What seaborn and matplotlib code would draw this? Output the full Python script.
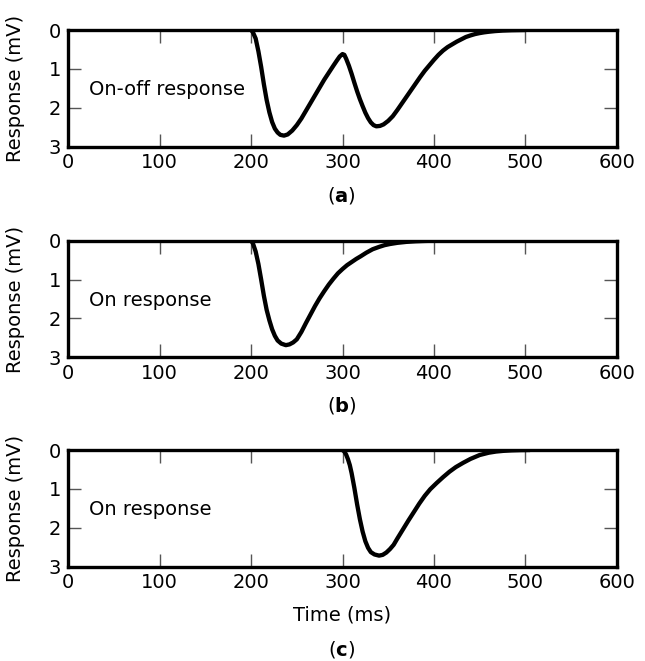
import numpy as np
import pandas as pd
import matplotlib
matplotlib.use('Agg')
import matplotlib.pyplot as plt
import seaborn as sns

# values (time in ms, response in mV, drawn downward)
t_onoff = [200, 202, 205, 208, 211, 214, 217, 220, 223, 226, 229, 232, 236, 240, 245,
           250, 255, 260, 265, 270, 275, 280, 285, 290, 294, 297, 300, 302, 304, 307,
           310, 313, 316, 319, 322, 325, 328, 331, 334, 337, 341, 345, 350, 355, 360,
           365, 370, 375, 380, 385, 390, 395, 400, 405, 410, 415, 420, 425, 430, 435,
           440, 445, 450, 455, 460, 467, 475, 485, 500]
v_onoff = [0.0, 0.06, 0.22, 0.55, 0.95, 1.40, 1.80, 2.12, 2.37, 2.54, 2.64, 2.70, 2.72, 2.69, 2.59,
           2.45, 2.28, 2.08, 1.88, 1.68, 1.48, 1.28, 1.10, 0.92, 0.78, 0.68, 0.62, 0.64, 0.74, 0.92,
           1.13, 1.36, 1.58, 1.78, 1.96, 2.13, 2.27, 2.38, 2.45, 2.48, 2.47, 2.43, 2.34, 2.22, 2.06,
           1.89, 1.72, 1.55, 1.38, 1.21, 1.05, 0.91, 0.77, 0.64, 0.53, 0.44, 0.37, 0.30, 0.24, 0.18,
           0.14, 0.105, 0.08, 0.06, 0.045, 0.028, 0.015, 0.006, 0.0]

t_on_b = [200, 202, 205, 208, 211, 214, 217, 220, 223, 226, 229, 233, 238, 242, 246,
          250, 255, 260, 265, 270, 275, 280, 285, 290, 295, 300, 305, 310, 315, 320,
          326, 333, 340, 346, 352, 360, 370, 380, 390, 400]
v_on_b = [0.0, 0.07, 0.28, 0.60, 1.00, 1.42, 1.78, 2.05, 2.28, 2.45, 2.57, 2.65, 2.69, 2.67, 2.62,
          2.54, 2.35, 2.12, 1.90, 1.68, 1.48, 1.30, 1.13, 0.98, 0.84, 0.73, 0.63, 0.55, 0.47, 0.40,
          0.31, 0.22, 0.16, 0.115, 0.085, 0.055, 0.03, 0.015, 0.006, 0.0]

t_on_c = [300, 302, 304, 306, 308, 310, 313, 316, 319, 322, 325, 328, 331, 335, 340,
          344, 348, 352, 356, 360, 366, 372, 378, 384, 390, 396, 403, 410, 417, 424,
          432, 440, 445, 450, 455, 460, 468, 476, 485, 495, 505]
v_on_c = [0.0, 0.04, 0.12, 0.24, 0.39, 0.60, 0.98, 1.40, 1.78, 2.10, 2.35, 2.52, 2.63, 2.69, 2.72,
          2.70, 2.64, 2.55, 2.44, 2.28, 2.05, 1.82, 1.60, 1.38, 1.18, 1.01, 0.85, 0.70, 0.56, 0.44,
          0.33, 0.23, 0.18, 0.13, 0.10, 0.07, 0.04, 0.022, 0.01, 0.003, 0.0]

panels = [
    (t_onoff, v_onoff, 'On-off response', 'a'),
    (t_on_b, v_on_b, 'On response', 'b'),
    (t_on_c, v_on_c, 'On response', 'c'),
]
x_ticks = [0, 100, 200, 300, 400, 500, 600]
y_ticks = [0, 1, 2, 3]

sns.set_theme(style='ticks')
plt.rcParams['font.family'] = ['DejaVu Sans']
plt.rcParams['mathtext.fontset'] = 'dejavusans'

fig = plt.figure(figsize=(6.45, 6.61), dpi=100)
W, H = 645, 661
left, right = 68.3, 616.7
tops = [30, 240.7, 450]
ph = 116.5
label_y = [195, 405, 650]
fs = 14

for (t, v, txt, tag), top, ly in zip(panels, tops, label_y):
    ax = fig.add_axes([left / W, 1 - (top + ph) / H, (right - left) / W, ph / H])
    df = pd.DataFrame({'t': t, 'v': v})
    sns.lineplot(data=df, x='t', y='v', ax=ax, color='black', lw=3.1, estimator=None, sort=False)
    ax.set_xlim(0, 600)
    ax.set_ylim(3, 0)
    ax.set_xticks(x_ticks)
    ax.set_yticks(y_ticks)
    ax.tick_params(direction='in', length=9.5, width=1, color='#555555', top=True, right=True,
                   labelsize=fs, pad=5, labelcolor='black')
    for s in ax.spines.values():
        s.set_linewidth(2.4)
        s.set_color('black')
    ax.set_xlabel('')
    ax.set_ylabel('Response (mV)', fontsize=fs, color='black')
    ax.yaxis.set_label_coords((25 - left) / (right - left), 0.5)
    ax.text(23, 1.53, txt, fontsize=fs, ha='left', va='center', color='black')
    fig.text(341.7 / W, 1 - ly / H, '($\\mathbf{' + tag + '}$)', fontsize=fs,
             ha='center', va='center', color='black')

fig.text(341.7 / W, 1 - 615 / H, 'Time (ms)', fontsize=fs, ha='center', va='center', color='black')

fig.savefig('out.png', dpi=100)
